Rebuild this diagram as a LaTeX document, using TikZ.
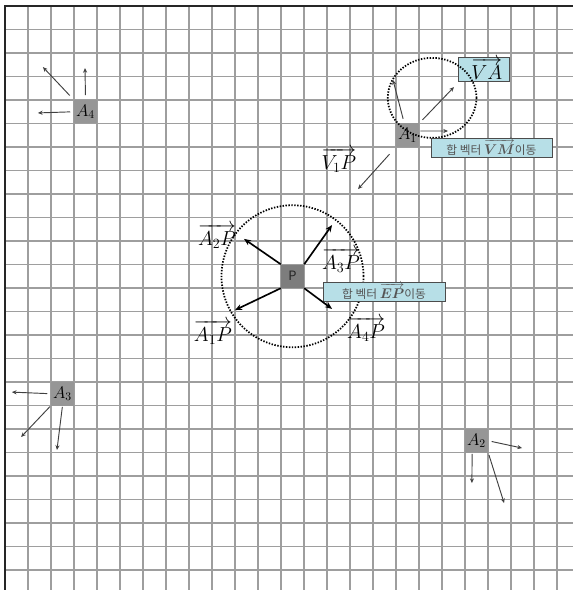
\documentclass[tikz,border=0pt]{standalone}
\usepackage{fontspec}
\usepackage{amsmath,amssymb}
\usetikzlibrary{arrows.meta}
\newfontfamily\kofont{Noto Sans CJK KR}
\definecolor{gridgray}{RGB}{158,158,158}
\definecolor{cellgray}{RGB}{150,150,150}
\definecolor{centergray}{RGB}{125,125,125}
\definecolor{boxcyan}{RGB}{183,223,231}
\definecolor{kotext}{RGB}{85,85,85}

\begin{document}
\begin{tikzpicture}[x=0.69cm, y=-0.705cm,
    cell/.style={fill=cellgray, minimum width=0.69cm, minimum height=0.705cm, inner sep=0pt, font=\fontsize{14}{14}\selectfont},
    vlabel/.style={inner sep=0pt, font=\fontsize{18}{18}\selectfont},
    infobox/.style={draw=black!70, fill=boxcyan, minimum height=0.57cm, inner sep=0pt, text=kotext, font=\kofont\fontsize{10}{10}\selectfont},
    agentarrow/.style={draw=black!75, line width=0.8pt, -{Stealth[length=4pt,width=3.5pt]}},
    forcearrow/.style={draw=black, line width=1.4pt, -{Stealth[length=6pt,width=5pt]}},
    reachring/.style={draw=black, line width=1.5pt, dash pattern=on 1.2pt off 1.3pt}]
    \useasboundingbox (-0.217,-0.255) rectangle (24.696,24.851);

    % Grid
    \foreach \i in {1,...,24} {
        \draw[gridgray, line width=1pt] (\i,0) -- (\i,24.851);
        \draw[gridgray, line width=1pt] (0,\i) -- (24.696,\i);
    }
    \draw[black!85, line width=2.4pt] (0,24.851) -- (0,0) -- (24.696,0);

    % Agents and target
    \node[cell] (A4) at (3.5,4.5) {$A_4$};
    \node[cell] (A1) at (17.5,5.5) {$A_1$};
    \node[cell] (A3) at (2.5,16.5) {$A_3$};
    \node[cell] (A2) at (20.5,18.5) {$A_2$};
    \node[cell, fill=centergray, text=black!85, font=\kofont\fontsize{11}{11}\selectfont] (P) at (12.5,11.5) {P};

    % Boxes under the ranges
    \node[infobox, minimum width=1.53cm, minimum height=0.72cm, text=black, font=\fontsize{16}{16}\selectfont] (VA) at (20.8,2.68) {\hspace{0.2cm}$\overrightarrow{VA}$};

    % Ranges
    \coordinate (reach) at (18.57,3.91);
    \draw[reachring] (reach) ellipse[x radius=1.33cm, y radius=1.2cm];
    \draw[reachring] (P) circle[radius=2.13cm];

    % Sum vectors
    \node[infobox, minimum width=3.63cm] (VM) at (21.15,6.02) {합 벡터 {\fontsize{12.5}{12}\selectfont$\overrightarrow{\boldsymbol{VM}}$}이동};
    \node[infobox, minimum width=3.66cm] (EP) at (16.48,12.15) {합 벡터 {\fontsize{12.5}{12}\selectfont$\overrightarrow{\boldsymbol{EP}}$}이동};

    % Vector labels
    \node[vlabel, font=\fontsize{17}{17}\selectfont] (V1P) at (14.52,6.55) {$\overrightarrow{V_1P}$};
    \node[vlabel] (A2P) at (9.22,9.79) {$\overrightarrow{A_2P}$};
    \node[vlabel] (A3P) at (14.61,10.81) {$\overrightarrow{A_3P}$};
    \node[vlabel] (A1P) at (9.04,13.87) {$\overrightarrow{A_1P}$};
    \node[vlabel] (A4P) at (15.70,13.74) {$\overrightarrow{A_4P}$};

    % Arrow tips
    \coordinate (a4w) at (1.43,4.55);
    \coordinate (a4n) at (3.48,2.64);
    \coordinate (a4nw) at (1.65,2.6);
    \coordinate (a1n) at (16.87,3.15);
    \coordinate (a1ne) at (19.52,3.45);
    \coordinate (a1e) at (19.26,5.32);
    \coordinate (a1sw) at (15.35,7.79);
    \coordinate (pnw) at (10.39,9.91);
    \coordinate (pne) at (14.22,9.32);
    \coordinate (psw) at (10.0,12.94);
    \coordinate (pse) at (14.22,12.89);
    \coordinate (a3w) at (0.30,16.43);
    \coordinate (a3sw) at (0.70,18.34);
    \coordinate (a3s) at (2.26,18.89);
    \coordinate (a2e) at (22.48,18.81);
    \coordinate (a2s) at (20.30,20.30);
    \coordinate (a2se) at (21.70,21.15);

    % A4
    \draw[agentarrow, shorten <=3pt] (A4.west) -- (a4w);
    \draw[agentarrow, shorten <=4pt] (A4.north) -- (a4n);
    \draw[agentarrow, shorten <=5pt] (A4.north west) -- (a4nw);

    % A1
    \draw[agentarrow, shorten <=4pt] (A1.105) -- (a1n);
    \draw[agentarrow, shorten <=4pt] (A1.north east) -- (a1ne);
    \draw[agentarrow, shorten <=1pt] (A1.20) -- (a1e);
    \draw[agentarrow, shorten <=8pt] (A1.south west) -- (a1sw);

    % P
    \draw[forcearrow] (P.north west) -- (pnw);
    \draw[forcearrow] (P.north east) -- (pne);
    \draw[forcearrow] (P.south west) -- (psw);
    \draw[forcearrow] (P.south east) -- (pse);

    % A3
    \draw[agentarrow, shorten <=3pt] (A3.west) -- (a3w);
    \draw[agentarrow, shorten <=1pt] (A3.south west) -- (a3sw);
    \draw[agentarrow, shorten <=1pt] (A3.south) -- (a3s);

    % A2
    \draw[agentarrow, shorten <=3pt] (A2.east) -- (a2e);
    \draw[agentarrow, shorten <=1pt] (A2.250) -- (a2s);
    \draw[agentarrow, shorten <=2pt] (A2.south east) -- (a2se);
\end{tikzpicture}
\end{document}
